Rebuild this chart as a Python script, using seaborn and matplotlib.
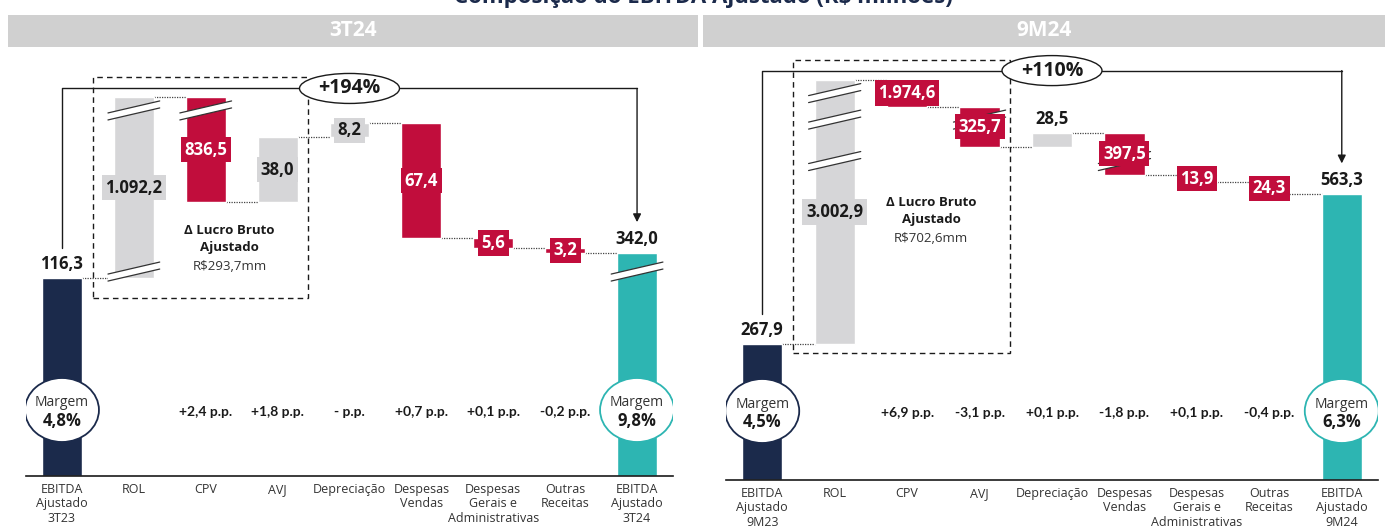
import matplotlib
matplotlib.use("Agg")
import matplotlib.pyplot as plt
from matplotlib.patches import Ellipse, Rectangle, Polygon
from matplotlib.transforms import blended_transform_factory
import numpy as np
import pandas as pd
import seaborn as sns

# categorias
cats_3t = ["EBITDA\nAjustado\n3T23", "ROL", "CPV", "AVJ", "Depreciação",
           "Despesas\nVendas", "Despesas\nGerais e\nAdministrativas",
           "Outras\nReceitas", "EBITDA\nAjustado\n3T24"]
cats_9m = ["EBITDA\nAjustado\n9M23", "ROL", "CPV", "AVJ", "Depreciação",
           "Despesas\nVendas", "Despesas\nGerais e\nAdministrativas",
           "Outras\nReceitas", "EBITDA\nAjustado\n9M24"]

# R$ milhões: valor inicial, variações (com sinal), valor final
vals_3t = [116.3, 1092.2, -836.5, 38.0, 8.2, -67.4, -5.6, -3.2, 342.0]
vals_9m = [267.9, 3002.9, -1974.6, -325.7, 28.5, -397.5, -13.9, -24.3, 563.3]

pp_3t = ["", "", "+2,4 p.p.", "+1,8 p.p.", "- p.p.", "+0,7 p.p.", "+0,1 p.p.", "-0,2 p.p.", ""]
pp_9m = ["", "", "+6,9 p.p.", "-3,1 p.p.", "+0,1 p.p.", "-1,8 p.p.", "+0,1 p.p.", "-0,4 p.p.", ""]

margem_3t = ["4,8%", "9,8%"]
margem_9m = ["4,5%", "6,3%"]
var_3t = "+194%"
var_9m = "+110%"
lucro_3t = "R$293,7mm"
lucro_9m = "R$702,6mm"

# quebras do eixo (de, até, altura em px) e escala linear fora delas
breaks_3t = [(116.3, 335.0, 13), (418.2, 1208.5, 26)]
breaks_9m = [(601.5, 970.5, 28), (999.0, 1296.2, 26), (1296.2, 3270.8, 27)]

NAVY, RED, GRAY, TEAL = "#1b2a4b", "#c10d3c", "#d6d6d8", "#2db5b2"
INK = "#1a1a1a"
FW, FH = 1388, 527
W_BAR = 0.555

sns.set_theme(style="white")
plt.rcParams["font.family"] = ["Open Sans", "DejaVu Sans"]


def br(v):
    s = f"{abs(v):,.1f}"
    return s.replace(",", "X").replace(".", ",").replace("X", ".")


def make_knots(slope, breaks, top_px):
    xs, ys = [0.0], [0.0]
    for lo, hi, gap in breaks:
        if lo > xs[-1]:
            ys.append(ys[-1] + (lo - xs[-1]) * slope)
            xs.append(lo)
        ys.append(ys[-1] + gap)
        xs.append(hi)
    xs.append(xs[-1] + (top_px - ys[-1]) / slope)
    ys.append(top_px)
    return np.array(xs), np.array(ys)


def slash(ax, tr, x, c, H):
    # marca de quebra: duas linhas paralelas com faixa branca
    dx = 0.36
    l0, r0 = c - 6 - 3.5, c + 6 - 3.5
    l1, r1 = c - 6 + 3.5, c + 6 + 3.5
    ax.add_patch(Polygon([(x - dx, l0 / H), (x + dx, r0 / H), (x + dx, r1 / H), (x - dx, l1 / H)],
                         closed=True, fc="white", ec="none", transform=tr, zorder=3))
    ax.plot([x - dx, x + dx], [l0 / H, r0 / H], color="#333", lw=0.9, transform=tr, zorder=3)
    ax.plot([x - dx, x + dx], [l1 / H, r1 / H], color="#333", lw=0.9, transform=tr, zorder=3)


def draw_panel(ax, cats, vals, pp, margens, var_txt, lucro_txt, breaks, slope, H, lay):
    n = len(vals)
    lo, hi, cum = [], [], []
    run = 0.0
    for i, v in enumerate(vals):
        if i == 0 or i == n - 1:
            lo.append(0.0); hi.append(v); run = v
        else:
            lo.append(min(run, run + v)); hi.append(max(run, run + v)); run += v
        cum.append(run)
    colors = [NAVY] + [GRAY if v > 0 else RED for v in vals[1:-1]] + [TEAL]

    df = pd.DataFrame({"cat": cats, "hi": hi})
    sns.barplot(data=df, x="cat", y="hi", hue="cat", order=cats, hue_order=cats,
                palette=colors, width=W_BAR, dodge=False, legend=False,
                saturation=1, errorbar=None, ax=ax, zorder=2)
    for p in ax.patches:
        i = int(round(p.get_x() + p.get_width() / 2))
        p.set_y(lo[i])
        p.set_height(hi[i] - lo[i])

    xs, ys = make_knots(slope, breaks, H)
    fwd = lambda v: np.interp(np.asarray(v, dtype=float), xs, ys)
    inv = lambda u: np.interp(np.asarray(u, dtype=float), ys, xs)
    ax.set_yscale("function", functions=(fwd, inv))
    ax.set_ylim(0, xs[-1])
    ax.set_xlim(-0.5, n - 0.5)
    ax.set_yticks([])
    ax.set_xlabel("")
    ax.set_ylabel("")
    ax.set_facecolor("none")
    sns.despine(ax=ax, left=True)
    ax.spines["bottom"].set_color(INK)
    ax.spines["bottom"].set_linewidth(1.2)
    ax.tick_params(axis="x", length=0, pad=5, labelsize=9, labelcolor="#333")
    for t in ax.get_xticklabels():
        t.set_linespacing(1.15)

    tr = blended_transform_factory(ax.transData, ax.transAxes)
    V = lambda v: float(fwd(v))

    # linhas pontilhadas entre barras
    for i in range(n - 1):
        y = V(cum[i]) / H
        ax.plot([i + W_BAR / 2, i + 1 - W_BAR / 2], [y, y], color="#444",
                lw=0.9, ls=(0, (1, 1)), transform=tr, zorder=1)

    # quebras
    for i in range(n):
        for b0, b1, gap in breaks:
            if b0 >= lo[i] - 1e-9 and b1 <= hi[i] + 1e-9:
                slash(ax, tr, i, V(b0) + gap / 2, H)

    # rótulos de valor
    for i in range(n):
        if i in (0, n - 1) or i in lay["above"]:
            ax.text(i, (V(hi[i]) + 14) / H, br(vals[i]), transform=tr, ha="center",
                    va="center", fontsize=12, fontweight="bold", color=INK, zorder=5)
        else:
            ym = (V(lo[i]) + V(hi[i])) / 2
            tc = INK if colors[i] == GRAY else "white"
            ax.text(i, ym / H, br(vals[i]), transform=tr, ha="center", va="center",
                    fontsize=12, fontweight="bold", color=tc, zorder=5,
                    bbox=dict(boxstyle="square,pad=0.22", fc=colors[i], ec="none"))

    # caixa tracejada do lucro bruto
    top = max(hi)
    by0 = V(vals[0]) - lay["box_pad"]
    by1 = V(top) + 20
    ax.add_patch(Rectangle((0.43, by0 / H), 2.99, (by1 - by0) / H, transform=tr,
                           fill=False, ec=INK, lw=1, ls=(0, (4, 3)), zorder=4))
    ly = lay["lucro"]
    ax.text(2.33, ly / H, "Δ Lucro Bruto", transform=tr, ha="center", va="center",
            fontsize=9.5, fontweight="bold", color=INK)
    ax.text(2.33, (ly - 17) / H, "Ajustado", transform=tr, ha="center", va="center",
            fontsize=9.5, fontweight="bold", color=INK)
    ax.text(2.33, (ly - 36) / H, lucro_txt, transform=tr, ha="center", va="center",
            fontsize=9.5, color="#333")

    # conector com variação %
    cy = (V(top) + 9) / H
    ew = 100 / (ax.get_position().width * FW / n)
    ax.plot([0, 0, 4 - ew / 2], [(V(vals[0]) + 30) / H, cy, cy], color=INK, lw=1,
            transform=tr, zorder=4)
    ax.plot([4 + ew / 2, n - 1], [cy, cy], color=INK, lw=1, transform=tr, zorder=4)
    ax.annotate("", xy=(n - 1, (V(vals[-1]) + 31) / H), xytext=(n - 1, cy),
                xycoords=tr, textcoords=tr,
                arrowprops=dict(arrowstyle="-|>", color=INK, lw=1, mutation_scale=12,
                                shrinkA=0, shrinkB=0), zorder=4)
    ax.add_patch(Ellipse((4, cy), ew, 30 / H, transform=tr, fc="white", ec=INK,
                         lw=1, zorder=5))
    ax.text(4, cy, var_txt, transform=tr, ha="center", va="center", fontsize=14,
            fontweight="bold", color=INK, zorder=6)

    # margens
    cv = lay["circ"]
    cw = 74 / (ax.get_position().width * FW / n)
    for i, m, ec in [(0, margens[0], NAVY), (n - 1, margens[1], TEAL)]:
        ax.add_patch(Ellipse((i, cv / H), cw, 64 / H, transform=tr, fc="white",
                             ec=ec, lw=1.3, zorder=5))
        ax.text(i, (cv + 7) / H, "Margem", transform=tr, ha="center", va="center",
                fontsize=10, color="#333", zorder=6)
        ax.text(i, (cv - 11) / H, m, transform=tr, ha="center", va="center",
                fontsize=12, fontweight="bold", color=INK, zorder=6)
    for i, t in enumerate(pp):
        if t:
            ax.text(i, (cv - 2) / H, t, transform=tr, ha="center", va="center",
                    fontsize=10, fontweight="bold", color=INK, family=["Lato", "DejaVu Sans"])


fig = plt.figure(figsize=(FW / 100, FH / 100), dpi=100)

H1, H2 = 426, 430
ax1 = fig.add_axes([26 / FW, (FH - 476) / FH, 647 / FW, H1 / FH])
ax2 = fig.add_axes([726 / FW, (FH - 480) / FH, 652 / FW, H2 / FH])

draw_panel(ax1, cats_3t, vals_3t, pp_3t, margem_3t, var_3t, lucro_3t, breaks_3t, 1.702, H1,
           dict(above=[], box_pad=20, lucro=245, circ=66))
draw_panel(ax2, cats_9m, vals_9m, pp_9m, margem_9m, var_9m, lucro_9m, breaks_9m, 0.507, H2,
           dict(above=[4], box_pad=9, lucro=278, circ=69))

# faixas de título
for x0, x1, txt in [(8, 698, "3T24"), (703, 1385, "9M24")]:
    fig.patches.append(Rectangle((x0 / FW, 1 - 47 / FH), (x1 - x0) / FW, 32 / FH,
                                 transform=fig.transFigure, fc="#d0d0d0", ec="none"))
    fig.text((x0 + x1) / 2 / FW, 1 - 31 / FH, txt, ha="center", va="center",
             fontsize=15, fontweight="bold", color="white")

fig.text(0.507, 1 - 3 / FH, "Composição do EBITDA Ajustado (R$ milhões)", ha="center",
         va="baseline", fontsize=16, fontweight="bold", color=NAVY)

fig.savefig("out.png", dpi=100)
